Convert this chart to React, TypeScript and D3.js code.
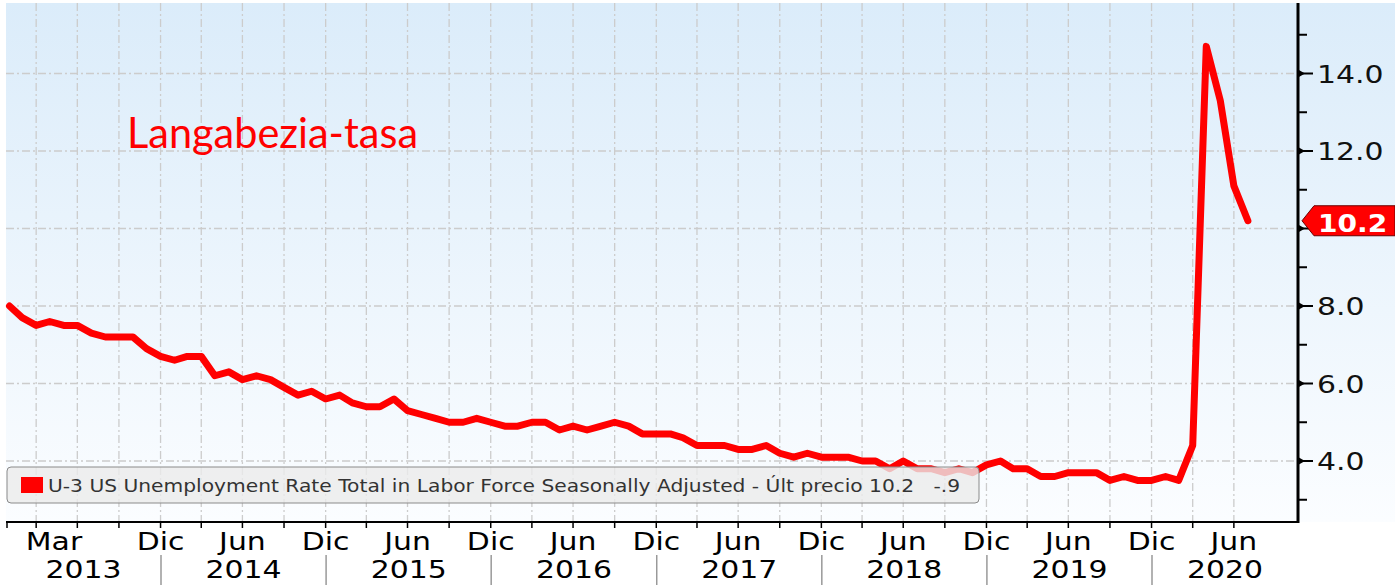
import * as d3 from "d3";

// U-3 monthly values (month-end points)
const years = [2013, 2014, 2015, 2016, 2017, 2018, 2019, 2020];
const rate2013 = [8.0, 7.7, 7.5, 7.6, 7.5, 7.5, 7.3, 7.2, 7.2, 7.2, 6.9, 6.7];
const rate2014 = [6.6, 6.7, 6.7, 6.2, 6.3, 6.1, 6.2, 6.1, 5.9, 5.7, 5.8, 5.6];
const rate2015 = [5.7, 5.5, 5.4, 5.4, 5.6, 5.3, 5.2, 5.1, 5.0, 5.0, 5.1, 5.0];
const rate2016 = [4.9, 4.9, 5.0, 5.0, 4.8, 4.9, 4.8, 4.9, 5.0, 4.9, 4.7, 4.7];
const rate2017 = [4.7, 4.6, 4.4, 4.4, 4.4, 4.3, 4.3, 4.4, 4.2, 4.1, 4.2, 4.1];
const rate2018 = [4.1, 4.1, 4.0, 4.0, 3.8, 4.0, 3.8, 3.8, 3.7, 3.8, 3.7, 3.9];
const rate2019 = [4.0, 3.8, 3.8, 3.6, 3.6, 3.7, 3.7, 3.7, 3.5, 3.6, 3.5, 3.5];
const rate2020 = [3.6, 3.5, 4.4, 14.7, 13.3, 11.1, 10.2];
const rateByYear = [rate2013, rate2014, rate2015, rate2016, rate2017, rate2018, rate2019, rate2020];

const monthLabels = ["Mar", "Dic", "Jun", "Dic", "Jun", "Dic", "Jun", "Dic", "Jun", "Dic", "Jun", "Dic", "Jun", "Dic", "Jun"];
const monthLabelDates = ["2013-03", "2013-12", "2014-06", "2014-12", "2015-06", "2015-12", "2016-06", "2016-12",
  "2017-06", "2017-12", "2018-06", "2018-12", "2019-06", "2019-12", "2020-06"];
const yTicks = [4, 6, 8, 10, 12, 14];
const yTickLabels = [4, 6, 8, 12, 14]; // 10.0 sits under the last-value badge
const yMinorTicks = [3, 5, 7, 9, 11, 13, 15];
const lastValue = 10.2;
const title = "Langabezia-tasa";
const legendText = "U-3 US Unemployment Rate Total in Labor Force Seasonally Adjusted - Últ precio 10.2   -.9";

const monthEnd = (y: number, m: number) => new Date(y, m, 0);

export default function App() {
  const W = 1395;
  const H = 585;
  const left = 6;
  const top = 3;
  const right = 1298;
  const bottom = 522;

  const x = d3.scaleTime().domain([new Date(2014, 0, 1), new Date(2020, 0, 1)]).range([161, 1152]);
  const y = d3.scaleLinear().domain([4, 14]).range([461, 73.5]);

  const data = rateByYear.flatMap((vals, i) => vals.map((v, m) => ({ date: monthEnd(years[i], m + 1), value: v })));
  const lastDate = data[data.length - 1].date;

  const quarters = years
    .flatMap((yr) => [3, 6, 9, 12].map((m) => monthEnd(yr, m)))
    .filter((d) => x(d) > left && d <= lastDate);

  const line = d3
    .line<{ date: Date; value: number }>()
    .x((d) => x(d.date))
    .y((d) => y(d.value));

  const font = "DejaVu Sans, Verdana, sans-serif";
  const sx = 1.22;
  const yl = y(lastValue);

  return (
    <svg width={W} height={H} style={{ position: "absolute", left: 0, top: 0 }}>
      <defs>
        <linearGradient id="bg" x1="0" y1="0" x2="0" y2="1">
          <stop offset="0" stopColor="#dbecfa" />
          <stop offset="1" stopColor="#fbfdff" />
        </linearGradient>
      </defs>
      <rect width={W} height={H} fill="#fff" />
      <rect x={left} y={top} width={W - left} height={bottom - top} fill="url(#bg)" />

      {/* grid */}
      <g stroke="#cccccc" strokeWidth={1.3} strokeDasharray="8,3,2,3">
        {yTicks.map((t) => (
          <line key={t} x1={left} x2={right} y1={y(t)} y2={y(t)} />
        ))}
        {quarters.map((d) => (
          <line key={+d} x1={x(d)} x2={x(d)} y1={top} y2={bottom} />
        ))}
      </g>

      {/* title */}
      <text x={127} y={148} fill="#ff0000" fontFamily="Lato, 'Open Sans', sans-serif" fontSize={43}
        textLength={291} lengthAdjust="spacingAndGlyphs">
        {title}
      </text>

      {/* series */}
      <path d={line(data)!} fill="none" stroke="#ff0000" strokeWidth={7} strokeLinejoin="round" strokeLinecap="round" />

      {/* legend */}
      <rect x={7} y={467} width={972} height={36} rx={4} fill="#ebebeb" fillOpacity={0.8} stroke="#8a8a8a" strokeWidth={1} />
      <rect x={21} y={477} width={22} height={16} fill="#ff0000" />
      <text x={48} y={492} fontFamily={font} fontSize={17} fill="#333" textLength={912}
        lengthAdjust="spacingAndGlyphs" style={{ whiteSpace: "pre" }}>
        {legendText}
      </text>

      {/* x axis */}
      <line x1={left} x2={right} y1={bottom} y2={bottom} stroke="#000" strokeWidth={2} />
      <g stroke="#000" strokeWidth={1.5}>
        {[left + 1, ...quarters.map((d) => x(d))].map((px, i) => (
          <line key={i} x1={px} x2={px} y1={bottom} y2={bottom + 6} />
        ))}
      </g>
      <g fontFamily={font} fontSize={24.5} fill="#000" textAnchor="middle">
        {monthLabels.map((lab, i) => {
          const [yy, mm] = monthLabelDates[i].split("-").map(Number);
          const px = Math.max(x(monthEnd(yy, mm)), left + 48);
          return (
            <text key={i} transform={`translate(${px},550) scale(${sx},1)`}>
              {lab}
            </text>
          );
        })}
        {years.map((yr) => {
          const a = Math.max(x(new Date(yr, 0, 1)), left);
          const b = Math.min(x(new Date(yr + 1, 0, 1)), right);
          return (
            <text key={yr} transform={`translate(${(a + b) / 2},578) scale(${sx},1)`}>
              {yr}
            </text>
          );
        })}
      </g>
      <g stroke="#999" strokeWidth={1.5}>
        {years.slice(1).map((yr) => {
          const px = x(new Date(yr, 0, 1));
          return <line key={yr} x1={px} x2={px} y1={555} y2={H} />;
        })}
      </g>

      {/* right axis */}
      <line x1={right} x2={right} y1={top} y2={bottom + 1} stroke="#000" strokeWidth={3} />
      <g stroke="#000" strokeWidth={2}>
        {yMinorTicks.map((t) => (
          <line key={t} x1={right} x2={right + 9} y1={y(t)} y2={y(t)} />
        ))}
        {yTicks.map((t) => (
          <line key={t} x1={right} x2={right + 15} y1={y(t)} y2={y(t)} />
        ))}
      </g>
      {yTicks.map((t) => (
        <path key={t} d={`M${right},${y(t) - 4}L${right + 7},${y(t)}L${right},${y(t) + 4}Z`} fill="#000" />
      ))}
      <g fontFamily={font} fontSize={24.5} fill="#111">
        {yTickLabels.map((t) => (
          <text key={t} transform={`translate(1317,${y(t) + 9}) scale(${sx},1)`}>
            {d3.format(".1f")(t)}
          </text>
        ))}
      </g>

      {/* last value badge */}
      <path d={`M1302,${yl}L1314,${yl - 15}L${W},${yl - 15}L${W},${yl + 15}L1314,${yl + 15}Z`}
        fill="#ff0000" stroke="#6b0000" strokeWidth={1} />
      <text transform={`translate(1318,${yl + 11}) scale(1.17,1)`} fontFamily={font} fontWeight="bold"
        fontSize={24} fill="#fff">
        {d3.format(".1f")(lastValue)}
      </text>
    </svg>
  );
}
